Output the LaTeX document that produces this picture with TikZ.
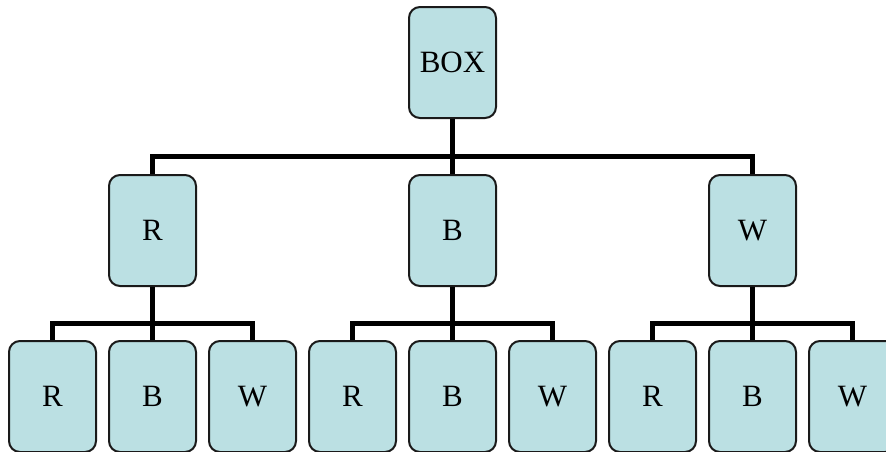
\documentclass[tikz,border=0pt]{standalone}
\usepackage{fontspec}
\setmainfont{Liberation Serif}
\definecolor{boxfill}{HTML}{BBE0E3}
\definecolor{boxline}{HTML}{1A1A1A}
\begin{document}
\begin{tikzpicture}[x=1pt,y=-1pt,
  bx/.style={draw=boxline,fill=boxfill,line width=2pt,rounded corners=11pt,
    minimum width=87pt,minimum height=111pt,inner sep=0pt,
    font=\fontsize{31}{36}\selectfont},
  conn/.style={line width=5pt,black,line join=miter}]
\useasboundingbox (0,0) rectangle (886,451);
\node[bx] (top) at (452.5,62.5) {BOX};
\node[bx] (mR) at (152.5,230.5) {R};
\node[bx] (mB) at (452.5,230.5) {B};
\node[bx] (mW) at (752.5,230.5) {W};
\foreach \p/\c in {R/52.5,B/352.5,W/652.5}{
  \node[bx] (\p1) at (\c,396.5) {R};
  \node[bx] (\p2) at (\c+100,396.5) {B};
  \node[bx] (\p3) at (\c+200,396.5) {W};
}
\foreach \m in {mR,mB,mW}
  \draw[conn] (top.south) -- ++(0,37) -| (\m.north);
\foreach \p in {R,B,W}
  \foreach \k in {1,2,3}
    \draw[conn] (m\p.south) -- ++(0,36) -| (\p\k.north);
\end{tikzpicture}
\end{document}
